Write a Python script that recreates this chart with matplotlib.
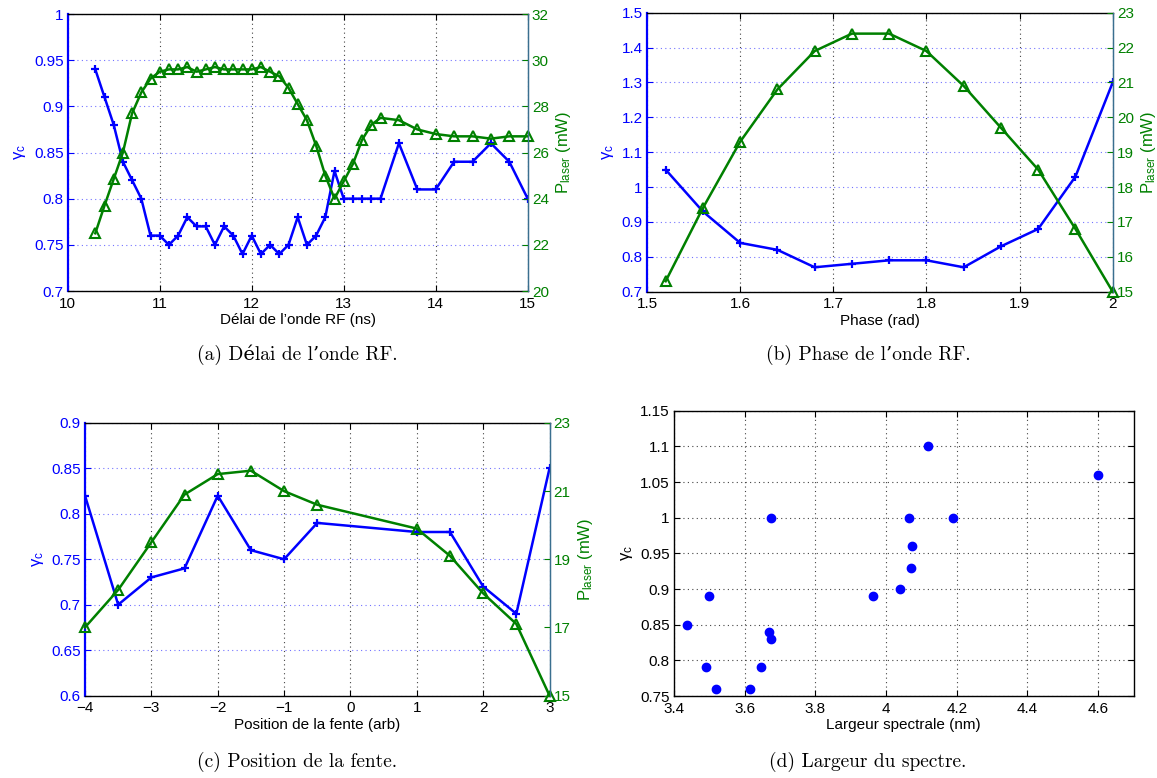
import numpy as np
import matplotlib.pyplot as plt

plt.rcParams['font.family'] = ['Liberation Sans', 'DejaVu Sans']
plt.rcParams['mathtext.fontset'] = 'custom'
plt.rcParams['mathtext.rm'] = 'Liberation Sans'
plt.rcParams['mathtext.it'] = 'Liberation Sans'
plt.rcParams['mathtext.bf'] = 'Liberation Sans:bold'
plt.rcParams['axes.unicode_minus'] = True

BLUE = (0, 0, 1)
GREEN = (0, 0.5, 0)

# (a) delai de l'onde RF
delai = [10.3, 10.4, 10.5, 10.6, 10.7, 10.8, 10.9, 11.0, 11.1, 11.2, 11.3, 11.4,
         11.5, 11.6, 11.7, 11.8, 11.9, 12.0, 12.1, 12.2, 12.3, 12.4, 12.5, 12.6,
         12.7, 12.8, 12.9, 13.0, 13.1, 13.2, 13.3, 13.4, 13.6, 13.8, 14.0, 14.2,
         14.4, 14.6, 14.8, 15.0]
gamma_a = [0.94, 0.91, 0.88, 0.84, 0.82, 0.80, 0.76, 0.76, 0.75, 0.76, 0.78, 0.77,
           0.77, 0.75, 0.77, 0.76, 0.74, 0.76, 0.74, 0.75, 0.74, 0.75, 0.78, 0.75,
           0.76, 0.78, 0.83, 0.80, 0.80, 0.80, 0.80, 0.80, 0.86, 0.81, 0.81, 0.84,
           0.84, 0.86, 0.84, 0.80]
plaser_a = [22.5, 23.7, 24.85, 26.0, 27.7, 28.6, 29.2, 29.5, 29.6, 29.6, 29.7, 29.5,
            29.6, 29.7, 29.6, 29.6, 29.6, 29.6, 29.7, 29.5, 29.3, 28.8, 28.1, 27.4,
            26.3, 25.0, 24.0, 24.75, 25.5, 26.55, 27.2, 27.5, 27.4, 27.0, 26.8, 26.7,
            26.7, 26.6, 26.7, 26.7]

# (b) phase de l'onde RF
phase = [1.52, 1.56, 1.60, 1.64, 1.68, 1.72, 1.76, 1.80, 1.84, 1.88, 1.92, 1.96, 2.00]
gamma_b = [1.05, 0.93, 0.84, 0.82, 0.77, 0.78, 0.79, 0.79, 0.77, 0.83, 0.88, 1.03, 1.30]
plaser_b = [15.3, 17.4, 19.3, 20.8, 21.9, 22.4, 22.4, 21.9, 20.9, 19.7, 18.5, 16.8, 15.0]

# (c) position de la fente
fente = [-4, -3.5, -3, -2.5, -2, -1.5, -1, -0.5, 1, 1.5, 2, 2.5, 3]
gamma_c = [0.82, 0.70, 0.73, 0.74, 0.82, 0.76, 0.75, 0.79, 0.78, 0.78, 0.72, 0.69, 0.85]
plaser_c = [17.0, 18.1, 19.5, 20.9, 21.5, 21.6, 21.0, 20.6, 19.9, 19.1, 18.0, 17.1, 15.0]

# (d) largeur du spectre
largeur = [3.438, 3.49, 3.499, 3.52, 3.616, 3.646, 3.67, 3.675, 3.675, 3.963,
           4.039, 4.064, 4.07, 4.074, 4.12, 4.19, 4.60]
gamma_d = [0.85, 0.79, 0.89, 0.76, 0.76, 0.79, 0.84, 0.83, 1.00, 0.89,
           0.90, 1.00, 0.93, 0.96, 1.10, 1.00, 1.06]

W, H = 1157, 778
fig = plt.figure(figsize=(W / 100, H / 100), dpi=100)

FS = 11
dots = (0, (1, 3))


def box(l, r, t, b):
    return [l / W, 1 - b / H, (r - l) / W, (b - t) / H]


def style_main(ax, xlim, xt, ylim, yt, ycol):
    ax.set_xlim(*xlim)
    ax.set_ylim(*ylim)
    ax.set_xticks(xt)
    ax.set_yticks(yt)
    ax.tick_params(axis='x', direction='in', top=True, length=4, labelsize=FS, pad=4, colors='black')
    ax.tick_params(axis='y', direction='in', right=True, length=4, labelsize=FS, pad=3,
                   colors=ycol)
    ax.xaxis.grid(True, color='#444444', linestyle=dots, linewidth=0.8)
    ax.yaxis.grid(True, color=ycol, alpha=0.55 if ycol == BLUE else 1, linestyle=dots, linewidth=0.8)
    ax.spines['left'].set_color(ycol)
    ax.spines['left'].set_linewidth(1.6 if ycol == BLUE else 1.0)
    for s in ['top', 'bottom', 'right']:
        ax.spines[s].set_linewidth(1.0)
    ax.spines['right'].set_color('#3a6f8f' if ycol == BLUE else 'black')


def style_twin(ax2, ylim, yt):
    ax2.set_ylim(*ylim)
    ax2.set_yticks(yt)
    ax2.tick_params(axis='y', direction='in', length=4, labelsize=FS, pad=3, colors=GREEN)
    ax2.spines['right'].set_color('#3a6f8f')
    for s in ['top', 'bottom', 'left']:
        ax2.spines[s].set_visible(False)


def dual(rect, x, g, p, xlim, xt, ylim1, yt1, ylim2, yt2, xlabel):
    ax = fig.add_axes(rect)
    style_main(ax, xlim, xt, ylim1, yt1, BLUE)
    ax.plot(x, g, color=BLUE, lw=1.8, marker='+', ms=6, mew=1.6)
    ax.set_xlabel(xlabel, fontsize=FS, labelpad=2)
    ax.set_ylabel(r'$\gamma_{\rm c}$', color=BLUE, fontsize=FS + 1, labelpad=4)
    ax2 = ax.twinx()
    style_twin(ax2, ylim2, yt2)
    ax2.plot(x, p, color=GREEN, lw=1.8, marker='^', ms=7, mew=1.5, mfc='none', clip_on=False)
    ax2.set_ylabel(r'$\rm P_{laser}$ (mW)', color=GREEN, fontsize=FS + 1, labelpad=4)
    return ax, ax2


axa, _ = dual(box(67.7, 527.7, 14, 291), delai, gamma_a, plaser_a,
              (10, 15), np.arange(10, 16, 1), (0.7, 1.0), np.arange(0.7, 1.001, 0.05),
              (20, 32), np.arange(20, 33, 2), 'Délai de l’onde RF (ns)')
axa.set_yticklabels(['0.7', '0.75', '0.8', '0.85', '0.9', '0.95', '1'])

axb, _ = dual(box(647, 1112.7, 12.7, 291.7), phase, gamma_b, plaser_b,
              (1.5, 2.0), np.arange(1.5, 2.01, 0.1), (0.7, 1.5), np.arange(0.7, 1.501, 0.1),
              (15, 23), np.arange(15, 24, 1), 'Phase (rad)')
axb.set_xticklabels(['1.5', '1.6', '1.7', '1.8', '1.9', '2'])
axb.set_yticklabels(['0.7', '0.8', '0.9', '1', '1.1', '1.2', '1.3', '1.4', '1.5'])

axc, _ = dual(box(85, 549.5, 423, 695.5), fente, gamma_c, plaser_c,
              (-4, 3), np.arange(-4, 4, 1), (0.6, 0.9), np.arange(0.6, 0.901, 0.05),
              (15, 23), np.arange(15, 24, 2), 'Position de la fente (arb)')
axc.set_yticklabels(['0.6', '0.65', '0.7', '0.75', '0.8', '0.85', '0.9'])

axd = fig.add_axes(box(674, 1133.5, 410.7, 696))
style_main(axd, (3.4, 4.7), np.arange(3.4, 4.61, 0.2), (0.75, 1.15),
           np.arange(0.75, 1.151, 0.05), 'black')
axd.yaxis.grid(True, color='#444444', linestyle=dots, linewidth=0.8)
axd.plot(largeur, gamma_d, 'o', color=BLUE, ms=6, mec=BLUE)
axd.set_xticklabels(['3.4', '3.6', '3.8', '4', '4.2', '4.4', '4.6'])
axd.set_yticklabels(['0.75', '0.8', '0.85', '0.9', '0.95', '1', '1.05', '1.1', '1.15'])
axd.set_xlabel('Largeur spectrale (nm)', fontsize=FS, labelpad=2)
axd.set_ylabel(r'$\gamma_{\rm c}$', color='black', fontsize=FS + 1, labelpad=4)

cap = dict(family=['cmr10', 'DejaVu Serif'], fontsize=14, ha='center', va='center')
fig.text(297 / W, 1 - 355 / H, '(a) Délai de l’onde RF.', **cap)
fig.text(868 / W, 1 - 355 / H, '(b) Phase de l’onde RF.', **cap)
fig.text(297 / W, 1 - 762 / H, '(c) Position de la fente.', **cap)
fig.text(868 / W, 1 - 762 / H, '(d) Largeur du spectre.', **cap)

fig.savefig('out.png', dpi=100)
